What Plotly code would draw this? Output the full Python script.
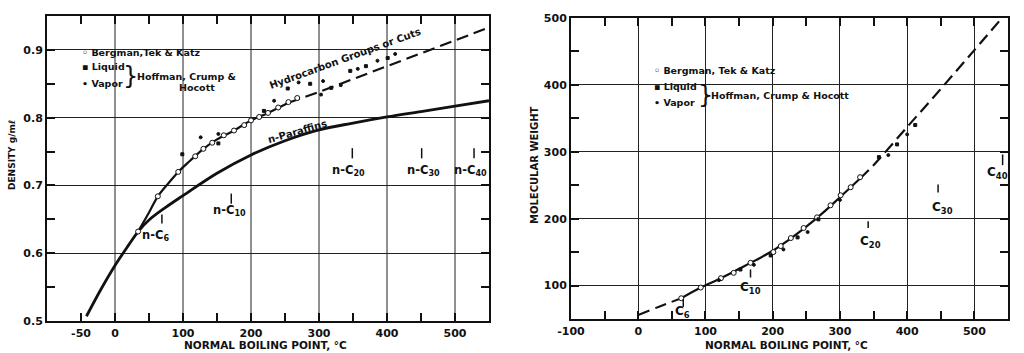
import plotly.graph_objects as go

# ---------------- Left panel: density vs normal boiling point ----------------
npar_bp = [-42, -20, 0, 20, 34, 50, 75, 100, 150, 200, 250, 300, 350, 400, 450, 500, 550]
npar_d = [0.507, 0.548, 0.582, 0.612, 0.632, 0.649, 0.668, 0.685, 0.718, 0.745, 0.766,
          0.782, 0.792, 0.801, 0.809, 0.817, 0.825]

hc_bp = [34, 50, 63, 80, 93, 110, 130, 150, 175, 200, 225, 255]
hc_d = [0.632, 0.660, 0.684, 0.705, 0.720, 0.736, 0.754, 0.768, 0.781, 0.796, 0.807, 0.822]
hc_ext_bp = [255, 300, 350, 400, 450, 500, 550]
hc_ext_d = [0.822, 0.838, 0.857, 0.876, 0.895, 0.914, 0.933]

btk_bp = [34, 63, 93, 118, 130, 143, 160, 175, 190, 200, 212, 225, 240, 255, 268]
btk_d = [0.632, 0.684, 0.720, 0.743, 0.754, 0.763, 0.774, 0.781, 0.789, 0.796, 0.801,
         0.807, 0.815, 0.823, 0.829]

liq_bp = [99, 152, 219, 254, 287, 318, 346, 369, 401]
liq_d = [0.746, 0.762, 0.810, 0.843, 0.850, 0.844, 0.869, 0.876, 0.888]
vap_bp = [126, 152, 234, 270, 303, 306, 332, 357, 386, 412]
vap_d = [0.771, 0.776, 0.825, 0.852, 0.834, 0.854, 0.848, 0.872, 0.884, 0.894]

# n-paraffin carbon-number markers (label text, boiling point, label y, tick y range)
left_c_labels = ["n-C<sub>6</sub>", "n-C<sub>10</sub>", "n-C<sub>20</sub>",
                 "n-C<sub>30</sub>", "n-C<sub>40</sub>"]
left_c_bp = [69, 171, 349, 451, 528]
left_c_lab_x = [60, 168, 344, 453, 523]
left_c_lab_y = [0.626, 0.663, 0.722, 0.722, 0.722]
left_c_tick = [(0.644, 0.657), (0.673, 0.688), (0.740, 0.755), (0.740, 0.755), (0.740, 0.755)]

# ---------------- Right panel: molecular weight vs normal boiling point ----------------
mw_lo_bp = [0, 30, 64]
mw_lo = [56, 68, 81]
mw_bp = [64, 93, 123, 150, 175, 200, 225, 250, 275, 300, 330]
mw = [81, 97, 111, 125, 138, 152, 169, 188, 209, 232, 260]
mw_hi_bp = [330, 350, 400, 450, 500, 541]
mw_hi = [260, 280, 337, 394, 452, 500]

btk2_bp = [64, 93, 123, 142, 167, 201, 212, 227, 246, 266, 286, 301, 316, 330]
btk2_mw = [81, 97, 111, 119, 134, 150, 159, 171, 186, 202, 220, 235, 247, 262]
liq2_bp = [152, 197, 237, 268, 358, 385, 412]
liq2_mw = [124, 145, 172, 199, 292, 311, 340]
vap2_bp = [120, 172, 216, 252, 300, 372, 400]
vap2_mw = [108, 131, 154, 180, 228, 295, 326]

right_c_labels = ["C<sub>6</sub>", "C<sub>10</sub>", "C<sub>20</sub>", "C<sub>30</sub>", "C<sub>40</sub>"]
right_c_bp = [67, 167, 342, 446, 542]
right_c_lab_x = [66, 167, 345, 452, 535]
right_c_lab_y = [60, 96, 165, 216, 269]
right_c_tick = [(68, 80), (112, 124), (186, 196), (239, 251), (280, 296)]

# axis ticks / grids
left_xticks = [-50, 0, 100, 200, 300, 400, 500]
left_xgrid = [0, 100, 200, 300, 400, 500]
left_yticks = [0.5, 0.6, 0.7, 0.8, 0.9]
right_xticks = [-100, 0, 100, 200, 300, 400, 500]
right_yticks = [100, 200, 300, 400, 500]

FONT = "DejaVu Sans"
INK = "#111111"
GRID = "#222222"

fig = go.Figure()

def line(x, y, xa, ya, width=2.6, dash="solid"):
    fig.add_trace(go.Scatter(x=x, y=y, xaxis=xa, yaxis=ya, mode="lines",
                             line=dict(color=INK, width=width, dash=dash, shape="spline"),
                             showlegend=False, hoverinfo="skip"))

def pts(x, y, xa, ya, symbol, size, fill):
    fig.add_trace(go.Scatter(x=x, y=y, xaxis=xa, yaxis=ya, mode="markers",
                             marker=dict(symbol=symbol, size=size, color=fill,
                                         line=dict(color=INK, width=1)),
                             showlegend=False, hoverinfo="skip"))

# left curves
line(npar_bp, npar_d, "x", "y", 2.8)
line(hc_bp, hc_d, "x", "y", 2.2)
line(hc_ext_bp, hc_ext_d, "x", "y", 2.2, "12px,6px")
pts(btk_bp, btk_d, "x", "y", "circle", 5, "white")
pts(liq_bp, liq_d, "x", "y", "square", 3, INK)
pts(vap_bp, vap_d, "x", "y", "circle", 3, INK)

# right curves
line(mw_lo_bp, mw_lo, "x2", "y2", 2.0, "12px,6px")
line(mw_bp, mw, "x2", "y2", 2.2)
line(mw_hi_bp, mw_hi, "x2", "y2", 2.2, "12px,6px")
pts(btk2_bp, btk2_mw, "x2", "y2", "circle", 5, "white")
pts(liq2_bp, liq2_mw, "x2", "y2", "square", 3, INK)
pts(vap2_bp, vap2_mw, "x2", "y2", "circle", 3, INK)

tickfont = dict(family=FONT, size=11, color=INK, weight="bold")
common_axis = dict(showline=True, linewidth=2, linecolor=INK, mirror="ticks",
                   ticks="inside", ticklen=8, tickwidth=1.5, tickcolor=INK,
                   zeroline=False, tickfont=tickfont, fixedrange=True, automargin=False)

def minor(dt, t0):
    return dict(dtick=dt, tick0=t0, ticks="inside", ticklen=8, tickwidth=1.5,
                tickcolor=INK, showgrid=False)

fig.update_layout(
    width=1024, height=353,
    margin=dict(l=0, r=0, t=0, b=0, autoexpand=False),
    paper_bgcolor="white", plot_bgcolor="white",
    xaxis=dict(domain=[47/1024, 489/1024], anchor="y", range=[-100, 550],
               tickvals=left_xticks, ticktext=[str(v) for v in left_xticks],
               showgrid=False, minor=minor(50, 0), ticklabelstandoff=1, **common_axis),
    yaxis=dict(domain=[1 - 321/353, 1 - 16/353], anchor="x", range=[0.5, 0.95],
               tickvals=left_yticks, ticktext=[f"{v:.1f}" for v in left_yticks],
               showgrid=True, gridcolor=GRID, gridwidth=1,
               minor=minor(0.05, 0.5), ticklabelstandoff=0, **common_axis),
    xaxis2=dict(domain=[571/1024, 1008/1024], anchor="y2", range=[-100, 550],
                tickvals=right_xticks, ticktext=[str(v) for v in right_xticks],
                showgrid=True, gridcolor=GRID, gridwidth=1,
                minor=minor(50, 0), ticklabelstandoff=1, **common_axis),
    yaxis2=dict(domain=[1 - 319/353, 1 - 18/353], anchor="x2", range=[50, 500],
                tickvals=right_yticks, ticktext=[str(v) for v in right_yticks],
                showgrid=True, gridcolor=GRID, gridwidth=1,
                minor=minor(50, 0), ticklabelstandoff=0, **common_axis),
)

for v in left_xgrid:
    fig.add_shape(type="line", xref="x", yref="y domain", x0=v, x1=v, y0=0, y1=1,
                  line=dict(color=GRID, width=1), layer="below")

def txt(x, y, s, xref="x", yref="y", size=10, angle=0, xanchor="center", weight="bold"):
    fig.add_annotation(x=x, y=y, xref=xref, yref=yref, text=s, showarrow=False,
                       textangle=angle, xanchor=xanchor, yanchor="middle", borderpad=0,
                       font=dict(family=FONT, size=size, color=INK, weight=weight))

def tick(x, y0, y1, xref, yref):
    fig.add_shape(type="line", xref=xref, yref=yref, x0=x, x1=x, y0=y0, y1=y1,
                  line=dict(color=INK, width=1.5))

# axis titles
txt(12/1024, 1 - 155/353, "DENSITY g/mℓ", "paper", "paper", 9, -90)
txt(535/1024, 1 - 165/353, "MOLECULAR WEIGHT", "paper", "paper", 10, -90)
txt(265/1024, 1 - 345/353, "NORMAL BOILING POINT, °C", "paper", "paper", 10.5)
txt(786/1024, 1 - 345/353, "NORMAL BOILING POINT, °C", "paper", "paper", 10.5)

# left legend
LEG = 9.5
txt(-50, 0.896, "◦ Bergman,Tek & Katz", size=LEG, xanchor="left")
txt(-50, 0.875, "▪ Liquid", size=LEG, xanchor="left")
txt(-50, 0.851, "• Vapor", size=LEG, xanchor="left")
txt(23, 0.862, "}", size=24, weight="normal")
txt(31, 0.861, "Hoffman, Crump &", size=LEG, xanchor="left")
txt(121, 0.845, "Hocott", size=LEG)

# left curve labels
txt(338, 0.887, "Hydrocarbon Groups or Cuts", angle=-20)
txt(268, 0.779, "n-Paraffins", angle=-16)
for lab, bp, lx, ly, (t0, t1) in zip(left_c_labels, left_c_bp, left_c_lab_x, left_c_lab_y, left_c_tick):
    txt(lx, ly, lab, size=11.5)
    tick(bp, t0, t1, "x", "y")

# right legend
txt(22, 421, "◦ Bergman, Tek & Katz", "x2", "y2", size=LEG, xanchor="left")
txt(22, 397, "▪ Liquid", "x2", "y2", size=LEG, xanchor="left")
txt(22, 373, "• Vapor", "x2", "y2", size=LEG, xanchor="left")
txt(100, 385, "}", "x2", "y2", size=24, weight="normal")
txt(107, 384, "Hoffman, Crump & Hocott", "x2", "y2", size=LEG, xanchor="left")

# right labels
for lab, bp, lx, ly, (t0, t1) in zip(right_c_labels, right_c_bp, right_c_lab_x, right_c_lab_y, right_c_tick):
    txt(lx, ly, lab, "x2", "y2", size=12)
    tick(bp, t0, t1, "x2", "y2")

fig.write_html("out.html")
